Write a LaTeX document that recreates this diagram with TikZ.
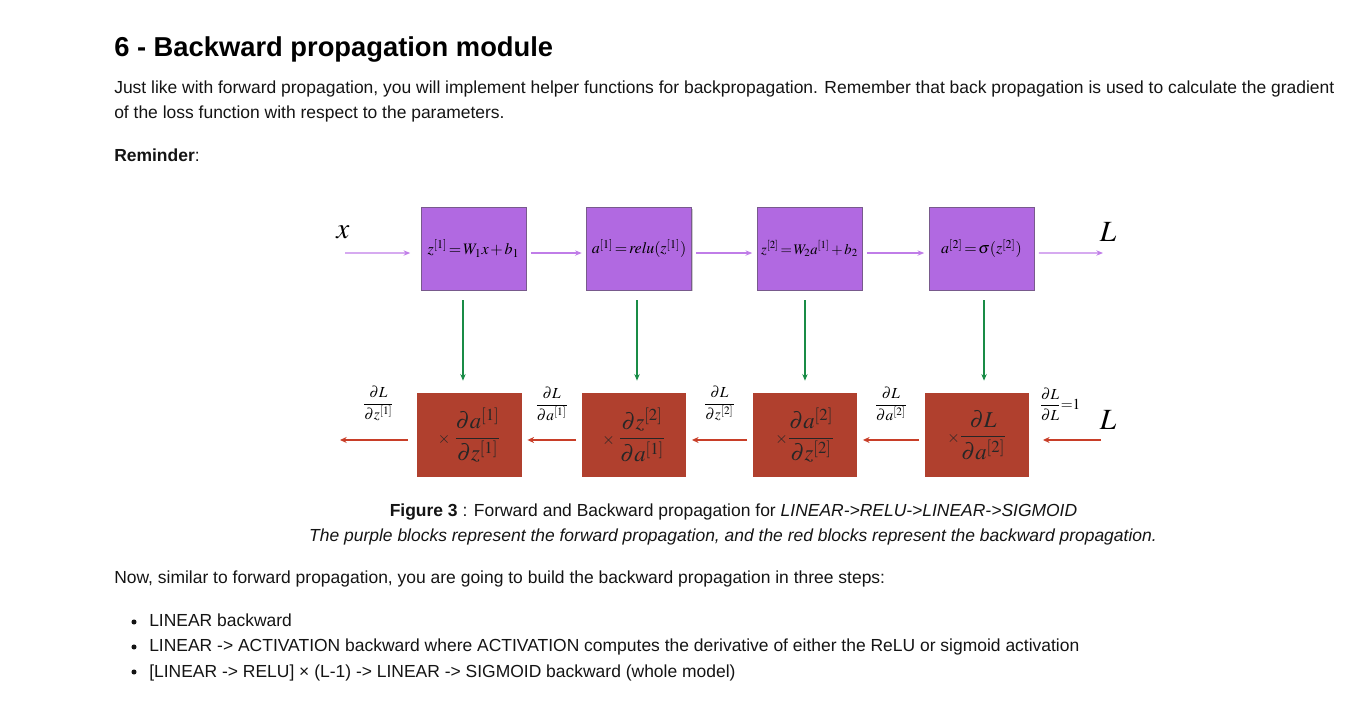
\documentclass[tikz,border=0pt]{standalone}
\usepackage{amsmath}
\usepackage{mathptmx}
\usepackage{fontspec}
\setmainfont{Liberation Sans}
\usetikzlibrary{arrows.meta,positioning,shadows}

\definecolor{bodytext}{RGB}{20,20,20}
\definecolor{fwdpurple}{RGB}{177,105,225}
\definecolor{fwdedge}{RGB}{120,90,140}
\definecolor{fwdline}{RGB}{192,125,232}
\definecolor{bwdred}{RGB}{176,64,46}
\definecolor{bwdline}{RGB}{200,62,40}
\definecolor{downgreen}{RGB}{25,140,70}

\begin{document}
\begin{tikzpicture}[x=0.75pt, y=-0.75pt,
        txt/.style={anchor=base west, inner sep=0pt, text=bodytext, font=\fontsize{13.1}{15}\selectfont},
        captxt/.style={anchor=base, inner sep=0pt, text=bodytext, font=\fontsize{13.1}{15}\selectfont},
        bullet/.style={circle, fill=bodytext, inner sep=0pt, minimum size=3.8pt},
        fwd/.style={rectangle, draw=fwdedge, thin, fill=fwdpurple, minimum width=78.5pt, minimum height=62pt, inner sep=0pt, font=\fontsize{12}{13}\selectfont,
            drop shadow={shadow xshift=1.1pt, shadow yshift=-1.1pt, opacity=0.4}},
        bwd/.style={rectangle, fill=bwdred, minimum width=78.5pt, minimum height=63pt, inner sep=0pt, text=black!85, font=\fontsize{17}{20}\selectfont},
        big/.style={inner sep=0pt, font=\fontsize{22}{24}\selectfont},
        fwdarrow/.style={draw=fwdline, line width=1pt, -{Stealth[length=5pt, width=4pt]}, shorten <=3.5pt, shorten >=3.5pt},
        bwdarrow/.style={draw=bwdline, line width=1.3pt, -{Stealth[length=5pt, width=4.5pt]}, shorten <=4pt, shorten >=4pt},
        downarrow/.style={draw=downgreen, line width=1pt, -{Stealth[length=5pt, width=4pt]}, shorten <=7.5pt, shorten >=9pt},
        grad/.style={midway, above=14pt, inner sep=0pt, font=\fontsize{11.5}{13}\selectfont}
    ]
    \path[use as bounding box] (0,0) rectangle (1368,712);

    % page text
    \node[txt, font=\fontsize{20.5}{24}\selectfont\bfseries, text=black] (title) at (114,57) {6 - Backward propagation module};
    \node[txt] (intro1) at (114,94) {Just like with forward propagation, you will implement helper functions for backpropagation. Remember that back propagation is used to calculate the gradient};
    \node[txt] (intro2) at (114,119) {of the loss function with respect to the parameters.};
    \node[txt] (reminder) at (114,162) {\textbf{Reminder}:};

    % forward blocks
    \node[fwd] (f1) at (473.5,248.5) {$z^{[1]}\,{=}\,W_1x\,{+}\,b_1$};
    \node[fwd] (f2) at (639,248.5) {$a^{[1]}\,{=}\,\mathit{relu}(z^{[1]})$};
    \node[fwd, font=\fontsize{11}{12}\selectfont] (f3) at (809.5,248.5) {$z^{[2]}\,{=}\,W_2a^{[1]}\,{+}\,b_2$};
    \node[fwd] (f4) at (981.5,248.5) {$a^{[2]}\,{=}\,\sigma(z^{[2]})$};
    \coordinate (xin) at (345,253);
    \coordinate (Lout) at (1103,253);
    \node[big] (xlabel) at (343,232) {$x$};
    \node[big] (Ltop) at (1108,232) {$L$};

    \draw[fwdarrow, shorten >=8pt, shorten <=0pt] (xin) -- ([yshift=-3.4pt]f1.west);
    \draw[fwdarrow] ([yshift=-3.4pt]f1.east) -- ([yshift=-3.4pt]f2.west);
    \draw[fwdarrow] ([yshift=-3.4pt]f2.east) -- ([yshift=-3.4pt]f3.west);
    \draw[fwdarrow] ([yshift=-3.4pt]f3.east) -- ([yshift=-3.4pt]f4.west);
    \draw[fwdarrow, shorten >=0pt] ([yshift=-3.4pt]f4.east) -- (Lout);

    % backward blocks
    \node[bwd] (b1) at (469.5,435) {{\fontsize{12}{12}\selectfont$\times$}\,$\dfrac{\partial a^{[1]}}{\partial z^{[1]}}$};
    \node[bwd] (b2) at (634,435) {{\fontsize{12}{12}\selectfont$\times$}\,$\dfrac{\partial z^{[2]}}{\partial a^{[1]}}$};
    \node[bwd] (b3) at (805,435) {{\fontsize{12}{12}\selectfont$\times$}$\dfrac{\partial a^{[2]}}{\partial z^{[2]}}$};
    \node[bwd] (b4) at (977,435) {{\fontsize{12}{12}\selectfont$\times$}$\dfrac{\partial L}{\partial a^{[2]}}$};
    \coordinate (Lin) at (1101,440);
    \coordinate (gradout) at (340,440);
    \node[big] (Lbottom) at (1108,420) {$L$};

    % forward to backward
    \foreach \i/\dx in {1/-7.9, 2/-1.5, 3/-3.4, 4/1.9}
        \draw[downarrow] ([xshift=\dx pt]f\i.south) -- ([xshift=\dx pt]f\i.south |- b\i.north);

    % gradients flowing back
    \draw[bwdarrow, shorten <=0pt, shorten >=10pt] (Lin) -- ([yshift=-3.75pt]b4.east)
        node[grad, xshift=-4pt] {$\dfrac{\partial L}{\partial L}{=}1$};
    \draw[bwdarrow] ([yshift=-3.75pt]b4.west) -- ([yshift=-3.75pt]b3.east)
        node[grad] {$\dfrac{\partial L}{\partial a^{[2]}}$};
    \draw[bwdarrow] ([yshift=-3.75pt]b3.west) -- ([yshift=-3.75pt]b2.east)
        node[grad] {$\dfrac{\partial L}{\partial z^{[2]}}$};
    \draw[bwdarrow] ([yshift=-3.75pt]b2.west) -- ([yshift=-3.75pt]b1.east)
        node[grad] {$\dfrac{\partial L}{\partial a^{[1]}}$};
    \draw[bwdarrow, shorten <=7pt, shorten >=0pt] ([yshift=-3.75pt]b1.west) -- (gradout)
        node[grad] {$\dfrac{\partial L}{\partial z^{[1]}}$};

    % caption
    \node[captxt] (cap1) at (733.5,517) {\textbf{Figure 3} : Forward and Backward propagation for \textit{LINEAR->RELU->LINEAR->SIGMOID}};
    \node[captxt] (cap2) at (733,542) {\textit{The purple blocks represent the forward propagation, and the red blocks represent the backward propagation.}};

    % steps
    \node[txt] (steps) at (114,584) {Now, similar to forward propagation, you are going to build the backward propagation in three steps:};
    \node[bullet] (dot1) at (134,622) {};
    \node[bullet] (dot2) at (134,647) {};
    \node[bullet] (dot3) at (134,672) {};
    \node[txt] (item1) at (149,627) {LINEAR backward};
    \node[txt] (item2) at (149,652) {LINEAR -> ACTIVATION backward where ACTIVATION computes the derivative of either the ReLU or sigmoid activation};
    \node[txt] (item3) at (149,677) {[LINEAR -> RELU] × (L-1) -> LINEAR -> SIGMOID backward (whole model)};
\end{tikzpicture}
\end{document}
